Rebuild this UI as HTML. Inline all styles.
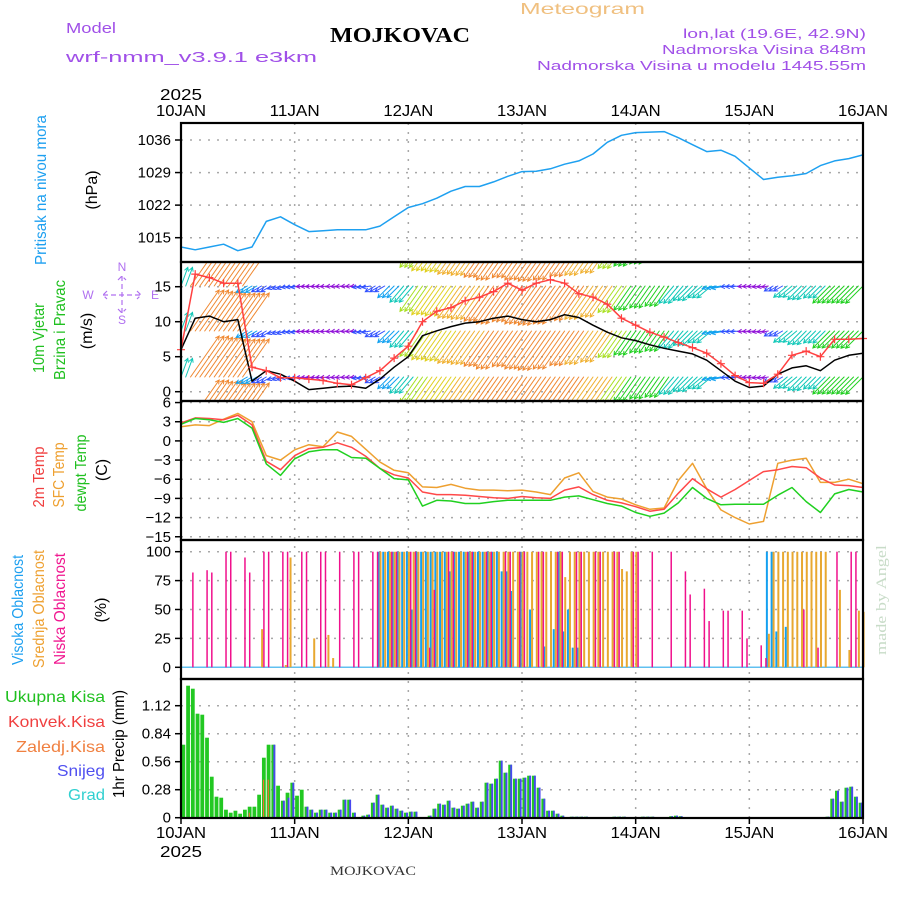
<!DOCTYPE html>
<html><head><meta charset="utf-8"><style>
html,body{margin:0;padding:0;background:#fff;}
svg{display:block;font-family:"Liberation Sans",sans-serif;}
</style></head><body>
<svg id="chart" width="900" height="900" viewBox="0 0 900 900" xmlns="http://www.w3.org/2000/svg">
<defs>
<clipPath id="clipW"><rect x="181" y="262" width="682" height="139"/></clipPath>
<clipPath id="clipP"><rect x="181" y="123" width="682" height="139"/></clipPath>
</defs>
<g>
<text x="66" y="33" font-size="15" fill="#a050e8" textLength="50" lengthAdjust="spacingAndGlyphs">Model</text>
<text x="66" y="62" font-size="15" fill="#a050e8" textLength="251" lengthAdjust="spacingAndGlyphs">wrf-nmm_v3.9.1 e3km</text>
<text x="330" y="42" font-size="21" font-weight="bold" font-family="Liberation Serif, serif" fill="#000" textLength="140" lengthAdjust="spacingAndGlyphs">MOJKOVAC</text>
<text x="520" y="14" font-size="16" fill="#f0c080" textLength="125" lengthAdjust="spacingAndGlyphs">Meteogram</text>
<text x="866" y="38" font-size="13" fill="#a050e8" text-anchor="end" textLength="183" lengthAdjust="spacingAndGlyphs">lon,lat (19.6E, 42.9N)</text>
<text x="866" y="54" font-size="13" fill="#a050e8" text-anchor="end" textLength="204" lengthAdjust="spacingAndGlyphs">Nadmorska Visina 848m</text>
<text x="866" y="70" font-size="13" fill="#a050e8" text-anchor="end" textLength="329" lengthAdjust="spacingAndGlyphs">Nadmorska Visina u modelu 1445.55m</text>
<text x="330" y="875" font-size="13" font-family="Liberation Serif, serif" fill="#333" textLength="86" lengthAdjust="spacingAndGlyphs">MOJKOVAC</text>
<text transform="translate(886,655) rotate(-90)" font-size="15" font-family="Liberation Serif, serif" fill="#c8dcc8" textLength="110" lengthAdjust="spacingAndGlyphs">made by Angel</text>
</g>
<g font-size="16">
<text transform="translate(46,190) rotate(-90)" text-anchor="middle" fill="#1ea0f0" textLength="150" lengthAdjust="spacingAndGlyphs">Pritisak na nivou mora</text>
<text transform="translate(97,190) rotate(-90)" text-anchor="middle" fill="#000">(hPa)</text>
<text transform="translate(44,338) rotate(-90)" text-anchor="middle" fill="#20c020" textLength="70" lengthAdjust="spacingAndGlyphs">10m Vjetar</text>
<text transform="translate(65,330) rotate(-90)" text-anchor="middle" fill="#20c020" textLength="100" lengthAdjust="spacingAndGlyphs">Brzina i Pravac</text>
<text transform="translate(92,331) rotate(-90)" text-anchor="middle" fill="#000">(m/s)</text>
<text transform="translate(44,477) rotate(-90)" text-anchor="middle" fill="#f04040" textLength="61" lengthAdjust="spacingAndGlyphs">2m Temp</text>
<text transform="translate(64,475) rotate(-90)" text-anchor="middle" fill="#eea030" textLength="65" lengthAdjust="spacingAndGlyphs">SFC Temp</text>
<text transform="translate(86,473) rotate(-90)" text-anchor="middle" fill="#20c020" textLength="77" lengthAdjust="spacingAndGlyphs">dewpt Temp</text>
<text transform="translate(107,470) rotate(-90)" text-anchor="middle" fill="#000">(C)</text>
<text transform="translate(23,610) rotate(-90)" text-anchor="middle" fill="#1ea0f0" textLength="110" lengthAdjust="spacingAndGlyphs">Visoka Oblacnost</text>
<text transform="translate(44,609) rotate(-90)" text-anchor="middle" fill="#eea030" textLength="118" lengthAdjust="spacingAndGlyphs">Srednja Oblacnost</text>
<text transform="translate(65,609) rotate(-90)" text-anchor="middle" fill="#f01890" textLength="112" lengthAdjust="spacingAndGlyphs">Niska Oblacnost</text>
<text transform="translate(106,610) rotate(-90)" text-anchor="middle" fill="#000">(%)</text>
<text transform="translate(124,744) rotate(-90)" text-anchor="middle" fill="#000" textLength="108" lengthAdjust="spacingAndGlyphs">1hr Precip (mm)</text>
<text x="105" y="702" text-anchor="end" fill="#20c020" textLength="100" lengthAdjust="spacingAndGlyphs">Ukupna Kisa</text>
<text x="105" y="727" text-anchor="end" fill="#f04040" textLength="97" lengthAdjust="spacingAndGlyphs">Konvek.Kisa</text>
<text x="105" y="752" text-anchor="end" fill="#f08040" textLength="89" lengthAdjust="spacingAndGlyphs">Zaledj.Kisa</text>
<text x="105" y="776" text-anchor="end" fill="#5050f0" textLength="48" lengthAdjust="spacingAndGlyphs">Snijeg</text>
<text x="105" y="800" text-anchor="end" fill="#30d0d0" textLength="37" lengthAdjust="spacingAndGlyphs">Grad</text>
</g>
<g fill="#b070f0" stroke="none" font-size="12">
<text x="122" y="271" text-anchor="middle">N</text>
<text x="122" y="324" text-anchor="middle">S</text>
<text x="88" y="299" text-anchor="middle">W</text>
<text x="155" y="299" text-anchor="middle">E</text>
<path d="M103 295 H141 M107 291 L103 295 L107 299 M137 291 L141 295 L137 299 M122 276 V313 M118 280 L122 276 L126 280 M118 309 L122 313 L126 309" stroke="#b070f0" stroke-width="1.2" fill="none" stroke-dasharray="5,3"/>
</g>
<g id="grid"></g>
<g id="marks"></g>
<g id="axes"></g>
</svg>
<script>
// ---- data (3-hourly, hour 0..144) ----
const hours3 = [0,3,6,9,12,15,18,21,24,27,30,33,36,39,42,45,48,51,54,57,60,63,66,69,72,75,78,81,84,87,90,93,96,99,102,105,108,111,114,117,120,123,126,129,132,135,138,141,144];
const pressure = [1013.0,1012.4,1013.0,1013.6,1012.2,1013.0,1018.5,1019.5,1017.8,1016.3,1016.5,1016.7,1016.7,1016.7,1017.5,1019.5,1021.5,1022.3,1023.5,1025.0,1026.0,1026.0,1027.0,1028.2,1029.2,1029.3,1029.8,1030.8,1031.5,1033.0,1035.5,1037.0,1037.6,1037.7,1037.8,1036.5,1035.0,1033.5,1033.8,1032.5,1030.0,1027.5,1028.0,1028.3,1028.8,1030.5,1031.5,1032.0,1032.8];
const windSpeed = [6.0,10.5,10.8,10.0,10.3,1.5,3.0,2.5,1.5,0.3,0.5,0.7,0.8,0.5,1.8,3.5,5.0,8.0,8.7,9.3,9.8,10.0,10.5,10.8,10.3,10.0,10.3,11.0,10.6,9.5,8.5,7.7,7.3,6.7,6.2,5.8,5.4,4.5,3.0,1.5,0.6,0.8,2.5,3.4,3.7,3.0,4.5,5.2,5.5];
const windGust = [6.0,16.8,16.3,15.5,15.5,3.5,3.0,2.0,2.0,1.8,1.6,1.2,1.0,2.0,3.0,4.8,6.5,10.0,11.5,12.0,13.0,13.5,14.3,15.5,14.5,15.5,16.0,15.5,14.0,13.5,12.5,10.5,9.5,8.5,7.8,7.0,6.3,5.5,4.0,2.3,1.3,1.2,2.5,5.2,5.8,5.0,7.5,7.5,7.6];
const windDir = [200,215,215,215,215,60,60,70,80,85,85,85,85,80,60,45,40,35,35,35,35,35,35,35,35,35,35,35,35,35,35,35,35,35,35,40,45,50,80,85,85,80,60,50,45,45,45,45,45];
const temp2m = [2.8,3.6,3.5,3.3,4.0,2.5,-3.2,-4.5,-2.3,-1.2,-1.0,-0.3,-1.0,-2.4,-4.3,-5.3,-5.8,-8.0,-8.4,-8.4,-8.5,-8.7,-8.9,-9.0,-8.7,-8.9,-9.0,-7.7,-7.2,-8.4,-9.3,-9.7,-10.3,-11.0,-10.7,-8.2,-5.9,-7.5,-8.8,-7.6,-6.2,-4.8,-4.5,-4.0,-4.2,-5.8,-6.9,-7.0,-7.3];
const tempSfc = [2.2,2.5,2.4,3.4,4.3,3.0,-2.3,-3.0,-1.4,-0.6,-0.9,1.4,0.7,-1.3,-3.3,-4.6,-5.0,-7.2,-7.3,-6.8,-7.4,-7.7,-7.7,-7.8,-7.7,-8.0,-8.4,-5.8,-5.0,-7.9,-8.8,-9.1,-10.0,-10.7,-10.5,-6.2,-3.5,-7.5,-10.8,-12.0,-13.0,-12.6,-3.5,-3.0,-2.7,-6.5,-6.5,-6.0,-6.7];
const tempDew = [2.6,3.5,3.3,2.9,3.5,2.0,-3.6,-5.4,-2.8,-1.7,-1.4,-1.4,-2.6,-2.7,-4.3,-5.9,-6.1,-10.2,-9.3,-9.4,-9.8,-9.8,-9.5,-9.3,-9.3,-9.3,-9.3,-8.8,-8.6,-9.2,-9.8,-10.2,-11.2,-11.8,-11.3,-9.7,-7.3,-9.0,-10.0,-9.9,-9.9,-9.9,-8.5,-7.3,-9.5,-11.2,-8.3,-7.6,-8.0];
// ---- cloud cover (hour, %) ----
const lowHours = [2,5,6,9,10,13,14,17,18,21,22,25,26,29,30,33,36,37,40,41,44,45,48,49,52,53,56,57,60,61,64,65,68,69,71,72,75,76,79,80,83,84,87,88,91,92,95,96,99,103,106,107,110,111,114,115,118,119,122,123,131,134,138,141,142];
const lowVals = [82,84,82,100,100,95,82,100,100,100,100,100,100,100,100,100,100,100,100,100,100,100,100,100,17,67,100,100,100,100,100,100,100,100,100,100,100,100,100,100,100,100,100,100,100,100,100,100,100,100,83,63,68,40,49,49,49,25,19,8,50,17,100,100,100];
const midHours = [17,22,23,28,31,32,42,43,44,45,46,47,48,49,50,51,52,53,54,55,56,57,58,59,60,61,62,63,64,65,66,67,68,69,70,71,72,73,74,75,76,77,78,79,80,81,82,83,84,85,86,87,88,89,90,91,92,93,94,95,96,124,125,126,127,128,129,130,131,132,133,134,135,136,139,141,143,144];
const midVals = [33,2,95,25,28,8,100,100,100,100,100,100,100,100,100,100,100,100,100,100,100,100,100,100,100,100,100,100,100,100,100,100,100,100,100,100,100,100,100,100,100,100,100,100,100,78,100,100,100,100,100,100,100,100,100,100,100,85,83,100,100,29,100,100,100,100,100,100,100,100,100,100,100,100,67,15,49,48];
const highHours = [42,43,44,45,46,47,48,49,50,51,52,53,54,55,56,57,58,59,60,61,62,63,64,65,66,67,68,69,70,72,74,77,79,80,81,82,83,84,124,125,126,128];
const highVals = [100,100,100,100,100,100,100,50,100,100,100,100,100,100,100,83,100,100,100,100,100,100,100,100,100,100,83,83,66,100,50,18,33,100,31,50,17,17,100,100,31,35];
// ---- precipitation (hour 1..144, mm) ----
const precipTotal = [0.73,1.32,1.29,1.04,1.03,0.80,0.41,0.21,0.20,0.08,
0.05,0.07,0.04,0.08,0.11,0.11,0.23,0.60,0.73,0.73,
0.32,0.17,0.25,0.35,0.22,0.28,0.11,0.08,0.05,0.08,
0.08,0.05,0.05,0.08,0.18,0.18,0.05,0,0.02,0.03,
0.15,0.23,0.13,0.10,0.12,0.09,0.07,0.05,0.06,0.06,
0,0,0.02,0.09,0.14,0.13,0.17,0.10,0.09,0.12,
0.14,0.16,0.10,0.16,0.35,0.34,0.39,0.57,0.45,0.53,
0.39,0.39,0.40,0.42,0.42,0.30,0.19,0.07,0.07,0.04,
0.02,0,0.01,0.01,0.01,0.01,0,0,0,0,
0,0.01,0.01,0.01,0,0,0,0.01,0.01,0.01,
0,0,0,0.015,0.02,0.015,0,0,0,0,
0,0,0,0,0,0,0,0,0,0,
0,0,0,0,0,0,0,0,0,0,
0,0,0,0,0,0,0.01,0.19,0.27,0.16,
0.30,0.31,0.21,0.15];
const precipSnow = [0,0,0,0,0,0,0,0,0,0,
0,0,0,0,0,0,0,0,0,0.73,
0,0.17,0.20,0.35,0,0,0.11,0.08,0.05,0.08,
0.08,0.05,0.05,0.08,0.18,0.18,0.05,0,0.02,0.03,
0.15,0.23,0.13,0.10,0.12,0.09,0.07,0.05,0.06,0.06,
0,0,0.02,0.09,0.14,0.13,0.17,0.10,0.09,0.12,
0.14,0.16,0.10,0.16,0.35,0.34,0.39,0.57,0.45,0.53,
0.39,0.39,0.40,0.42,0.42,0.30,0.19,0.07,0.07,0.04,
0.02,0,0.01,0.01,0.01,0.01,0,0,0,0,
0,0.01,0.01,0.01,0,0,0,0.01,0.01,0.01,
0,0,0,0.015,0.02,0.015,0,0,0,0,
0,0,0,0,0,0,0,0,0,0,
0,0,0,0,0,0,0,0,0,0,
0,0,0,0,0,0,0.01,0.19,0.27,0.16,
0.30,0.31,0.21,0.15];
const iceHours = [15,18,19,30];
const iceVals = [0.05,0.38,0.38,0.02];
// ---- ticks ----
const dayLabels = ["10JAN","11JAN","12JAN","13JAN","14JAN","15JAN","16JAN"];
const pTicks = [1015,1022,1029,1036];
const wTicks = [0,5,10,15];
const tTicks = [6,3,0,-3,-6,-9,-12,-15];
const cTicks = [0,25,50,75,100];
const rTicks = [0,0.28,0.56,0.84,1.12];

// ---- scales ----
const X0 = 181, X1 = 863;
function X(h){ return X0 + h*(X1-X0)/144; }
function yP(v){ return 140 + (1036-v)*4.652; }
function yW(v){ return 391.7 - v*7; }
function yT(v){ return 440.9 - 6.39*v; }
function yC(v){ return 667.3 - 1.156*v; }
function yR(v){ return 817.7 - 100*v; }

const NS = "http://www.w3.org/2000/svg";
function mk(tag, attrs, parent){
  const el = document.createElementNS(NS, tag);
  for (const k in attrs) el.setAttribute(k, attrs[k]);
  parent.appendChild(el);
  return el;
}
const grid = document.getElementById('grid');
const marks = document.getElementById('marks');
const axes = document.getElementById('axes');
const panels = [[123,262],[262,401],[401,540],[540,679],[679,818]];
const dotted = {stroke:"#a8a8a8","stroke-width":"1.5","stroke-dasharray":"2,7",fill:"none"};

for (let d=1; d<6; d++){
  const g = mk('line', Object.assign({x1:X(d*24),x2:X(d*24),y1:123,y2:818}, dotted), grid);
  
  
}
function hgrid(ticks, fy, name){
  ticks.forEach(t=>{
    const g = mk('line', Object.assign({x1:X0,x2:X1,y1:fy(t),y2:fy(t)}, dotted), grid);
    
    
    const tk = mk('line', {x1:X0-6,x2:X0,y1:fy(t),y2:fy(t),stroke:"#000","stroke-width":"1.5"}, axes);
    
    
    const lb = mk('text', {x:X0-10,y:fy(t)+5,"text-anchor":"end","font-size":"15",fill:"#000"}, axes);
    
    
    lb.textContent = (t<0? "\u2212"+Math.abs(t) : String(t));
  });
}
hgrid(pTicks, yP, 'pressure');
hgrid(wTicks, yW, 'wind');
hgrid(tTicks, yT, 'temp');
hgrid(cTicks, yC, 'cloud');
hgrid(rTicks, yR, 'precip');

panels.forEach((p,i)=>{
  const r = mk('rect', {x:X0,y:p[0],width:X1-X0,height:p[1]-p[0],fill:"none",stroke:"#000","stroke-width":"2.2"}, axes);
  
  
});
dayLabels.forEach((d,i)=>{
  const t1 = mk('text', {x:X(i*24),y:116,"text-anchor":"middle","font-size":"16",fill:"#000",textLength:"50",lengthAdjust:"spacingAndGlyphs"}, axes);
  
  
  t1.textContent = d;
  const t2 = mk('text', {x:X(i*24),y:838,"text-anchor":"middle","font-size":"16",fill:"#000",textLength:"50",lengthAdjust:"spacingAndGlyphs"}, axes);
  
  
  t2.textContent = d;
  const tk = mk('line', {x1:X(i*24),x2:X(i*24),y1:818,y2:824,stroke:"#000","stroke-width":"1.5"}, axes);
  
  
});
const y1 = mk('text', {x:160,y:100,"font-size":"16",fill:"#000",textLength:"42",lengthAdjust:"spacingAndGlyphs"}, axes);


y1.textContent = "2025";
const y2 = mk('text', {x:160,y:857,"font-size":"16",fill:"#000",textLength:"42",lengthAdjust:"spacingAndGlyphs"}, axes);


y2.textContent = "2025";

function poly(vals, fy, color, name, clip){
  const pts = vals.map((v,i)=>X(hours3[i]).toFixed(1)+","+fy(v).toFixed(1)).join(" ");
  const pl = mk('polyline', {points:pts,fill:"none",stroke:color,"stroke-width":"1.5","stroke-linejoin":"round"}, marks);
  if (clip) pl.setAttribute('clip-path', clip);
  
  
  return pl;
}
poly(pressure, yP, "#1ea0f0", "pressure-line", "url(#clipP)");

function gustColor(g){
  if (g<2) return "#9010d8";
  if (g<3.5) return "#3050ff";
  if (g<5) return "#10a0f0";
  if (g<7.5) return "#10c8b8";
  if (g<10) return "#20d020";
  if (g<11.5) return "#a8e020";
  if (g<12.5) return "#e0d020";
  if (g<14) return "#f0b030";
  return "#f08830";
}
const windG = mk('g', {"clip-path":"url(#clipW)"}, marks);


const rowBases = [242,286,331,377,421];
windGust.forEach((g,i)=>{
  const d = windDir[i]*Math.PI/180;
  const L = 2.8*g + 3;
  const ux = -Math.sin(d), uy = Math.cos(d);
  const col = gustColor(g);
  [-1,0,1].forEach(k=>{
    const x = X(hours3[i]+k);
    if (x < X0 || x > X1) return;
    rowBases.forEach(b=>{
      const x2 = x + ux*L, y2b = b + uy*L;
      const a = Math.atan2(uy, ux);
      const h1x = x2 - 4*Math.cos(a-0.5), h1y = y2b - 4*Math.sin(a-0.5);
      const h2x = x2 - 4*Math.cos(a+0.5), h2y = y2b - 4*Math.sin(a+0.5);
      const p = mk('path', {d:`M${x.toFixed(1)} ${b} L${x2.toFixed(1)} ${y2b.toFixed(1)} M${h1x.toFixed(1)} ${h1y.toFixed(1)} L${x2.toFixed(1)} ${y2b.toFixed(1)} L${h2x.toFixed(1)} ${h2y.toFixed(1)}`,stroke:col,"stroke-width":"1","stroke-linecap":"round",fill:"none"}, windG);
      
      
    });
  });
});
poly(windSpeed, yW, "#000", "wind-speed-line", "url(#clipW)");
poly(windGust, yW, "#ff4040", "wind-gust-line", "url(#clipW)");
windGust.forEach((g,i)=>{
  const x = X(hours3[i]), y = yW(g);
  const m = mk('path', {d:`M${x-4} ${y} H${x+4} M${x} ${y-4} V${y+4}`,stroke:"#ff4040","stroke-width":"1.2"}, marks);
  
  
});

poly(tempSfc, yT, "#eea030", "sfc-temp-line");
poly(temp2m, yT, "#ff4848", "temp-2m-line");
poly(tempDew, yT, "#20d020", "dewpoint-line");

const base = mk('line', {x1:X0,x2:X1,y1:yC(0),y2:yC(0),stroke:"#60c0f0","stroke-width":"1.5"}, marks);


function cloudBars(hrs, vals, color, off, w, name){
  hrs.forEach((h,i)=>{
    const x = X(h)+off;
    const l = mk('line', {x1:x,x2:x,y1:yC(0),y2:yC(vals[i]),stroke:color,"stroke-width":w}, marks);
    
    
  });
}
cloudBars(highHours, highVals, "#14a0f0", -1.4, 2, "high-cloud-bar");
cloudBars(midHours, midVals, "#e8a830", 0.6, 2, "mid-cloud-bar");
cloudBars(lowHours, lowVals, "#f0108c", 2.4, 1.5, "low-cloud-bar");

precipTotal.forEach((v,i)=>{
  if (v<=0) return;
  const h = i+1;
  const x = X(h)-4.3;
  const r = mk('rect', {x:x,y:yR(v),width:3.8,height:yR(0)-yR(v),fill:"#22c822"}, marks);
  
  
});
precipSnow.forEach((v,i)=>{
  if (v<=0) return;
  const h = i+1;
  const x = X(h)-2.3;
  const r = mk('rect', {x:x,y:yR(v),width:1.9,height:yR(0)-yR(v),fill:"#4848f0"}, marks);
  
  
});
iceHours.forEach((h,i)=>{
  const x = X(h)-3.3;
  const r = mk('rect', {x:x,y:yR(iceVals[i]),width:1.2,height:yR(0)-yR(iceVals[i]),fill:"#f07030"}, marks);
  
  
});
</script>
</body></html>
